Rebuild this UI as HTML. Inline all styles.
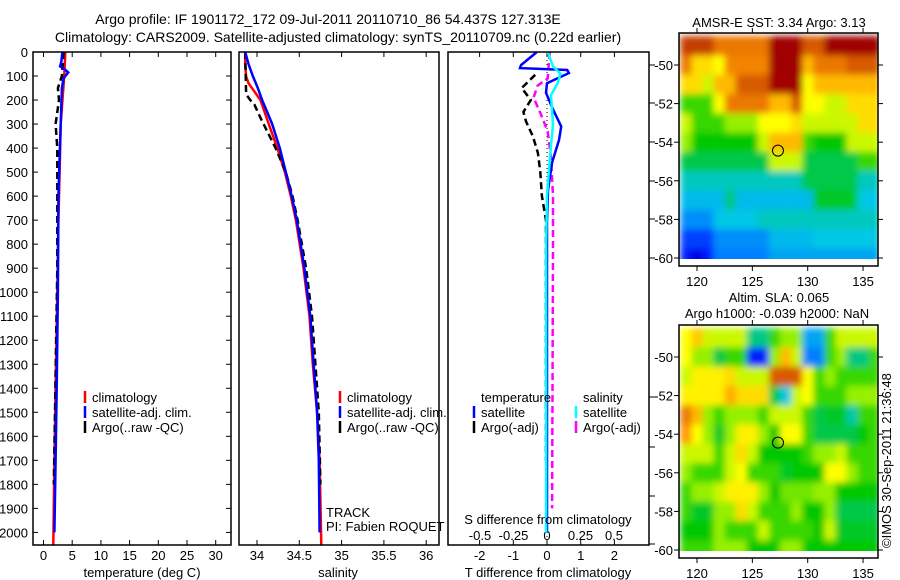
<!DOCTYPE html>
<html><head><meta charset="utf-8"><style>
body{margin:0;background:#fff}
svg{display:block;font-family:"Liberation Sans",sans-serif}
text{font-size:13px;fill:#000}
</style></head><body>
<svg id="fig" width="900" height="580" viewBox="0 0 900 580">
<defs><filter id="blur" x="-5%" y="-5%" width="110%" height="110%"><feGaussianBlur stdDeviation="3.5" edgeMode="duplicate"/></filter></defs>
<text x="328" y="24" text-anchor="middle" style="font-size:14px">Argo profile: IF 1901172_172 09-Jul-2011 20110710_86 54.437S 127.313E</text>
<text x="338" y="42" text-anchor="middle" style="font-size:14px">Climatology: CARS2009. Satellite-adjusted climatology: synTS_20110709.nc (0.22d earlier)</text>
<g id="p1"></g>
<g id="p2"></g>
<g id="p3"></g>
<g id="m1"></g>
<g id="m2"></g>
<text transform="translate(891,548) rotate(-90)" style="font-size:13px">©IMOS 30-Sep-2011 21:36:48</text>
</svg>
<script>
// ---- profile data ----
const depthTicks=[0,100,200,300,400,500,600,700,800,900,1000,1100,1200,1300,1400,1500,1600,1700,1800,1900,2000];
const tempTicks=[0,5,10,15,20,25,30];
const salTicks=[34,34.5,35,35.5,36];
const salTickLabels=["34","34.5","35","35.5","36"];
const tdiffTicks=[-2,-1,0,1,2];
const sdiffTicks=[-0.5,-0.25,0,0.25,0.5];
const sdiffTickLabels=["-0.5","-0.25","0","0.25","0.5"];

const tClimD=[0,100,300,500,700,1000,1400,1700,2055];
const tClimV=[3.8,3.6,3.0,2.8,2.6,2.4,2.1,1.9,1.7];
const tSatD=[0,40,60,70,85,110,150,300,600,1000,1400,1700,2000];
const tSatV=[3.3,3.1,2.9,3.6,4.3,3.5,3.2,3.0,2.6,2.5,2.3,2.1,1.9];
const tArgD=[0,60,100,150,200,250,300,400,600,900,1200,1500,1800];
const tArgV=[3.5,3.3,3.2,2.5,2.7,2.4,2.1,2.4,2.4,2.4,2.2,2.0,1.8];

const sClimD=[0,50,100,130,200,300,400,500,600,700,900,1100,1300,1500,1700,2055];
const sClimV=[33.86,33.86,33.87,33.9,34.04,34.14,34.24,34.33,34.4,34.46,34.55,34.62,34.66,34.71,34.74,34.76];
const sSatD=[0,50,100,150,200,250,300,400,500,600,700,900,1100,1300,1500,1700,2000];
const sSatV=[33.86,33.9,33.95,34.01,34.06,34.12,34.18,34.27,34.34,34.41,34.47,34.56,34.63,34.67,34.71,34.73,34.74];
const sArgD=[0,160,180,200,220,280,330,400,500,600,700,900,1100,1300,1500,1800];
const sArgV=[33.86,33.87,33.88,33.92,33.97,34.05,34.12,34.22,34.34,34.42,34.48,34.58,34.65,34.69,34.73,34.75];

const dTSatD=[0,54,67,75,88,130,170,240,310,365,460,575,700,2000];
const dTSatV=[-0.3,-0.77,-0.8,0.6,0.65,0,-0.03,0.18,0.42,0.36,0.15,0.03,0,0];
const dSSatD=[0,60,90,130,180,300,450,600,800,2000];
const dSSatV=[0.005,0.045,0.1,0.08,0.03,0.045,0.02,0,-0.007,-0.007];
const dSArgD=[0,110,140,190,260,330,440,600,800,1900];
const dSArgV=[0.02,0.005,-0.07,-0.1,-0.045,0.005,0.03,0.045,0.045,0.038];
const dTArgD=[95,150,200,250,290,350,420,500,600,700,1000,1700];
const dTArgV=[-0.35,-0.75,-0.48,-0.7,-0.62,-0.42,-0.27,-0.2,-0.15,-0.03,-0.03,-0.03];

// ---- map data (rows lat -49..-60, cols lon 119..136), colour index 0..1 ----
const mapLons=[119,120,121,122,123,124,125,126,127,128,129,130,131,132,133,134,135,136];
const mapLats=[-49,-50,-51,-52,-53,-54,-55,-56,-57,-58,-59,-60];
const sstGrid=[
[.9,.9,.9,.8,.8,.8,.8,.8,1,1,1,.85,.85,1,1,1,1,1],
[.8,.65,.65,.6,.78,.78,.78,.78,1,1,1,.7,.8,.8,.8,.85,.85,.85],
[.65,.65,.55,.7,.7,.85,.85,.85,1,1,1,.6,.7,.7,.7,.7,.7,.7],
[.45,.45,.45,.6,.8,.8,.8,.8,.7,.7,.85,.6,.6,.55,.55,.65,.65,.65],
[.55,.45,.45,.45,.5,.5,.5,.6,.6,.6,.65,.55,.55,.55,.55,.55,.65,.65],
[.5,.42,.42,.42,.42,.42,.42,.55,.7,.7,.7,.45,.42,.42,.42,.55,.55,.55],
[.38,.38,.38,.38,.38,.38,.38,.38,.55,.55,.55,.38,.38,.38,.38,.38,.45,.45],
[.32,.32,.32,.32,.32,.32,.32,.32,.32,.32,.32,.38,.38,.38,.38,.38,.32,.32],
[.28,.28,.28,.28,.35,.28,.28,.28,.28,.28,.28,.28,.4,.4,.4,.4,.3,.3],
[.22,.22,.22,.3,.3,.3,.3,.32,.32,.32,.32,.32,.32,.32,.32,.32,.32,.32],
[.15,.15,.15,.22,.22,.22,.22,.22,.28,.28,.28,.28,.3,.3,.3,.3,.3,.3],
[.12,.08,.12,.2,.2,.2,.2,.2,.25,.25,.25,.25,.25,.25,.25,.25,.25,.25]];
const slaGrid=[
[.6,.68,.55,.55,.55,.55,.35,.35,.45,.5,.5,.25,.25,.45,.55,.55,.55,.55],
[.6,.5,.5,.38,.45,.45,.12,.12,.5,.7,.55,.2,.2,.45,.5,.35,.35,.45],
[.55,.62,.62,.62,.65,.55,.55,.55,.85,.85,.85,.6,.45,.5,.45,.45,.45,.45],
[.62,.62,.62,.62,.72,.65,.65,.65,.38,.3,.55,.6,.45,.45,.45,.5,.5,.5],
[.8,.7,.5,.45,.5,.5,.5,.45,.55,.55,.55,.45,.38,.4,.4,.33,.45,.45],
[.75,.6,.5,.4,.5,.62,.62,.5,.42,.6,.6,.45,.38,.38,.38,.38,.42,.45],
[.55,.55,.55,.45,.55,.65,.55,.42,.42,.42,.42,.45,.5,.5,.55,.45,.45,.45],
[.5,.45,.45,.45,.55,.6,.45,.45,.45,.4,.42,.42,.42,.6,.6,.5,.45,.45],
[.45,.5,.5,.55,.62,.62,.62,.5,.42,.48,.48,.48,.5,.5,.42,.42,.42,.42],
[.45,.4,.4,.5,.5,.65,.55,.45,.45,.45,.5,.42,.42,.5,.38,.38,.38,.38],
[.42,.42,.42,.5,.45,.45,.45,.55,.45,.45,.45,.45,.42,.55,.4,.4,.4,.4],
[.45,.45,.45,.5,.5,.5,.42,.42,.42,.5,.5,.42,.42,.42,.42,.42,.42,.42]];
const argoLon=127.313, argoLat=-54.437;

const NS="http://www.w3.org/2000/svg";
function mk(tag,attrs,parent,txt){const e=document.createElementNS(NS,tag);for(const k in attrs)e.setAttribute(k,attrs[k]);if(txt!==undefined)e.textContent=txt;parent.appendChild(e);return e;}
const Y0=52, YB=545;
const yD=d=>Y0+d*0.2402;

function poly(parent,xs,ds,xf,color,dash,name){
  const pts=ds.map((d,i)=>xf(xs[i]).toFixed(1)+","+yD(d).toFixed(1)).join(" ");
  const e=mk("polyline",{points:pts,fill:"none",stroke:color,"stroke-width":2.5},parent);
  if(dash)e.setAttribute("stroke-dasharray",dash);
  
  
}
function frame(parent,x0,x1,name){
  const r=mk("rect",{x:x0,y:Y0,width:x1-x0,height:YB-Y0,fill:"none",stroke:"#000","stroke-width":1.5},parent);
  
  
}
function xticks(parent,vals,labels,xf,ylab){
  vals.forEach((v,i)=>{
    const x=xf(v);
    mk("line",{x1:x,x2:x,y1:Y0,y2:Y0+5,stroke:"#000"},parent);
    mk("line",{x1:x,x2:x,y1:YB,y2:YB-5,stroke:"#000"},parent);
    const t=mk("text",{x:x,y:ylab,"text-anchor":"middle"},parent,labels[i]);
    
    
  });
}
function legendBar(parent,x,y,color,label){
  mk("line",{x1:x,x2:x,y1:y-11,y2:y+1,stroke:color,"stroke-width":2.5},parent);
  const t=mk("text",{x:x+7,y:y},parent,label);
  
  
}
function label(parent,x,y,s,anchor,name){
  const t=mk("text",{x:x,y:y,"text-anchor":anchor||"start"},parent,s);
  
  
}

// Panel 1
const p1=document.getElementById("p1");
const xT=v=>43.5+v*5.74;
depthTicks.forEach(d=>{
  const y=yD(d);
  mk("line",{x1:33,x2:38,y1:y,y2:y,stroke:"#000"},p1);
  mk("line",{x1:231,x2:226,y1:y,y2:y,stroke:"#000"},p1);
  const t=mk("text",{x:28,y:y+5,"text-anchor":"end"},p1,String(d));
  
  
});
xticks(p1,tempTicks,tempTicks.map(String),xT,560);
poly(p1,tClimV,tClimD,xT,"#f00",null,"temp-climatology-line");
poly(p1,tArgV,tArgD,xT,"#000","7,4","temp-argo-line");
poly(p1,tSatV,tSatD,xT,"#00f",null,"temp-satellite-line");
frame(p1,33,231,"temperature-axes-frame");
legendBar(p1,85,402,"#f00","climatology");
legendBar(p1,85,417,"#00f","satellite-adj. clim.");
legendBar(p1,85,432,"#000","Argo(..raw -QC)");
label(p1,142,577,"temperature (deg C)","middle","x-axis-title-temperature");

// Panel 2
const p2=document.getElementById("p2");
const xS=v=>257+(v-34)*84.6;
xticks(p2,salTicks,salTickLabels,xS,560);
poly(p2,sClimV,sClimD,xS,"#f00",null,"sal-climatology-line");
poly(p2,sArgV,sArgD,xS,"#000","7,4","sal-argo-line");
poly(p2,sSatV,sSatD,xS,"#00f",null,"sal-satellite-line");
frame(p2,239,439,"salinity-axes-frame");
legendBar(p2,340,402,"#f00","climatology");
legendBar(p2,340,417,"#00f","satellite-adj. clim.");
legendBar(p2,340,432,"#000","Argo(..raw -QC)");
label(p2,326,517,"TRACK","start","track-label");
label(p2,326,531,"PI: Fabien ROQUET","start","pi-label");
label(p2,338,577,"salinity","middle","x-axis-title-salinity");

// Panel 3
const p3=document.getElementById("p3");
const xDT=v=>547+v*33.7;
const xDS=v=>547+v*134;
xticks(p3,tdiffTicks,tdiffTicks.map(String),xDT,560);
sdiffTicks.forEach((v,i)=>{const t=mk("text",{x:xDS(v),y:540,"text-anchor":"middle"},p3,sdiffTickLabels[i]);
  
  });
mk("line",{x1:547,x2:547,y1:Y0,y2:YB,stroke:"#000","stroke-dasharray":"1,3"},p3);
poly(p3,dTArgV,dTArgD,xDT,"#000","7,4","tdiff-argo-line");
poly(p3,dSArgV,dSArgD,xDS,"#f0f","7,4","sdiff-argo-line");
poly(p3,dTSatV,dTSatD,xDT,"#00f",null,"tdiff-satellite-line");
poly(p3,dSSatV,dSSatD,xDS,"#0ff",null,"sdiff-satellite-line");
frame(p3,448,649,"difference-axes-frame");
[65,103,142,181,219,258,397,447,496,544].forEach(y=>mk("line",{x1:649,x2:655,y1:y,y2:y,stroke:"#000"},p3));
label(p3,481,402,"temperature","start","legend-temperature-header");
label(p3,583,402,"salinity","start","legend-salinity-header");
legendBar(p3,474,417,"#00f","satellite");
legendBar(p3,474,432,"#000","Argo(-adj)");
legendBar(p3,576,417,"#0ff","satellite");
legendBar(p3,576,432,"#f0f","Argo(-adj)");
label(p3,548,524,"S difference from climatology","middle","s-diff-axis-title");
label(p3,548,577,"T difference from climatology","middle","t-diff-axis-title");

// colormap
const cmStops=[[0,0,0,128],[0.1,0,0,255],[0.2,0,128,255],[0.3,0,200,230],[0.35,0,200,130],[0.42,0,200,0],[0.5,150,240,0],[0.6,255,255,0],[0.75,255,150,0],[0.85,215,90,0],[1,160,0,0]];
function cmap(v){
  v=Math.max(0,Math.min(1,v));
  for(let i=1;i<cmStops.length;i++){
    const a=cmStops[i-1],b=cmStops[i];
    if(v<=b[0]){const t=(v-a[0])/(b[0]-a[0]);
      return `rgb(${Math.round(a[1]+t*(b[1]-a[1]))},${Math.round(a[2]+t*(b[2]-a[2]))},${Math.round(a[3]+t*(b[3]-a[3]))})`;}
  }
  return "rgb(160,0,0)";
}
function drawMap(id,grid,top,title1,title2,tY){
  const g=document.getElementById(id);
  const L=679,R=878,B=top+233;
  const xL=lon=>697+(lon-120)*11.07;
  const yL=lat=>(top+32)+(-50-lat)*19.3;
  const cid="clip"+id;
  const cp=mk("clipPath",{id:cid},g);
  mk("rect",{x:L,y:top,width:R-L,height:yL(-60.05)-top},cp);
  const outer=mk("g",{"clip-path":`url(#${cid})`},g);
  const cells=mk("g",{filter:"url(#blur)"},outer);
  grid.forEach((row,i)=>row.forEach((v,j)=>{
    const lat=mapLats[i], lon=mapLons[j];
    const c=mk("rect",{x:xL(lon-0.5).toFixed(1),y:yL(lat+0.5).toFixed(1),width:11.4,height:19.6,fill:cmap(v)},cells);
    
    
  }));
  const fr=mk("rect",{x:L,y:top,width:R-L,height:B-top,fill:"none",stroke:"#000","stroke-width":1.5},g);
  
  
  [120,125,130,135].forEach(lon=>{
    const x=xL(lon);
    mk("line",{x1:x,x2:x,y1:top,y2:top-5,stroke:"#000"},g);
    mk("line",{x1:x,x2:x,y1:B,y2:B+5,stroke:"#000"},g);
    const t=mk("text",{x:x,y:B+20,"text-anchor":"middle"},g,String(lon));
    
    
  });
  [-50,-52,-54,-56,-58,-60].forEach(lat=>{
    const y=yL(lat);
    mk("line",{x1:L,x2:L-5,y1:y,y2:y,stroke:"#000"},g);
    mk("line",{x1:R,x2:R+5,y1:y,y2:y,stroke:"#000"},g);
    const t=mk("text",{x:L-6,y:y+5,"text-anchor":"end"},g,String(lat));
    
    
  });
  const c=mk("circle",{cx:xL(argoLon),cy:yL(argoLat),r:5.5,fill:"none",stroke:"#000","stroke-width":1},g);
  
  
  label(g,779,tY,title1,"middle","map-title");
  if(title2)label(g,777,tY+16,title2,"middle","map-subtitle");
}
drawMap("m1",sstGrid,33,"AMSR-E SST: 3.34  Argo: 3.13",null,27);
drawMap("m2",slaGrid,325,"Altim. SLA: 0.065","Argo h1000: -0.039  h2000: NaN",302);
</script>
</body></html>
